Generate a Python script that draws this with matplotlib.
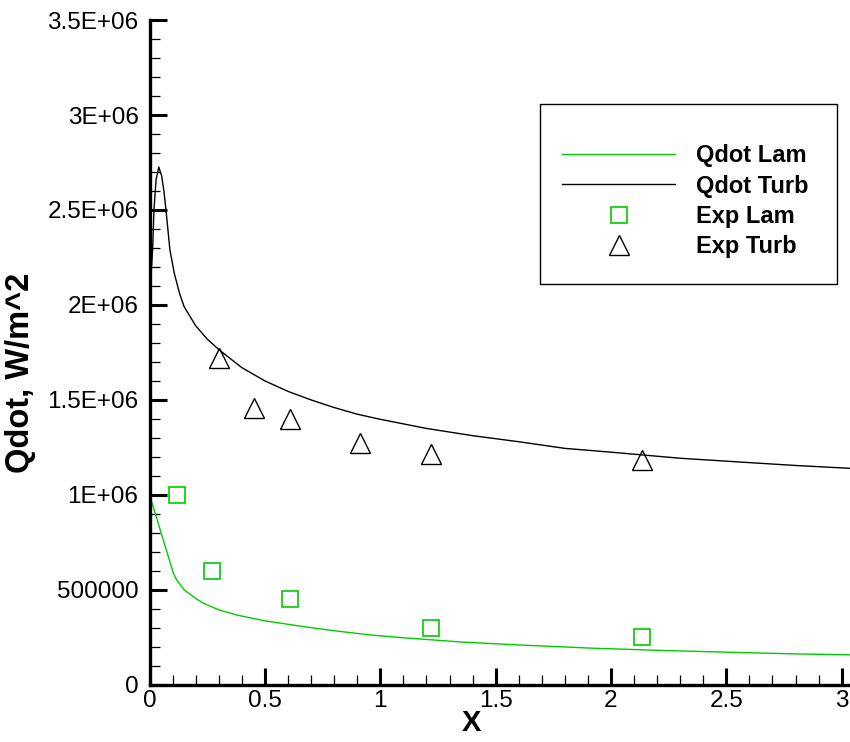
import matplotlib
matplotlib.use('Agg')
import matplotlib.pyplot as plt
from matplotlib.patches import Rectangle
from matplotlib.ticker import MultipleLocator

plt.rcParams['font.family'] = ['Liberation Sans', 'DejaVu Sans']

# Computed heat flux along the wall
x_lam = [0.0, 0.103, 0.117, 0.15, 0.2, 0.233, 0.3, 0.377, 0.5, 0.666, 0.8, 0.955,
         1.1, 1.345, 1.6, 1.923, 2.2, 2.502, 2.8, 3.036]
q_lam = [1.0e6, 0.588e6, 0.553e6, 0.5e6, 0.455e6, 0.43e6, 0.395e6, 0.368e6,
         0.337e6, 0.307e6, 0.285e6, 0.263e6, 0.248e6, 0.226e6, 0.21e6, 0.193e6,
         0.182e6, 0.172e6, 0.163e6, 0.158e6]

x_turb = [0.0, 0.006, 0.013, 0.019, 0.028, 0.04, 0.052, 0.062, 0.071, 0.088, 0.107,
          0.13, 0.15, 0.2, 0.25, 0.3, 0.4, 0.5, 0.6, 0.7, 0.8, 0.9, 1.0, 1.2, 1.4,
          1.6, 1.8, 2.0, 2.3, 2.6, 2.8, 3.036]
q_turb = [1.95e6, 2.15e6, 2.29e6, 2.5e6, 2.66e6, 2.726e6, 2.68e6, 2.6e6, 2.5e6,
          2.29e6, 2.167e6, 2.06e6, 1.99e6, 1.89e6, 1.82e6, 1.765e6, 1.67e6, 1.6e6,
          1.545e6, 1.5e6, 1.46e6, 1.425e6, 1.398e6, 1.35e6, 1.312e6, 1.28e6,
          1.245e6, 1.225e6, 1.193e6, 1.17e6, 1.155e6, 1.14e6]

# Measurements
x_exp_lam = [0.119, 0.27, 0.61, 1.22, 2.134]
q_exp_lam = [1.0e6, 0.6e6, 0.45e6, 0.3e6, 0.25e6]

x_exp_turb = [0.30, 0.454, 0.61, 0.913, 1.218, 2.134]
q_exp_turb = [1.72e6, 1.46e6, 1.4e6, 1.275e6, 1.217e6, 1.185e6]

x_ticks = [0, 0.5, 1, 1.5, 2, 2.5, 3]
x_tick_labels = ['0', '0.5', '1', '1.5', '2', '2.5', '3']
y_ticks = [0, 0.5e6, 1e6, 1.5e6, 2e6, 2.5e6, 3e6, 3.5e6]
y_tick_labels = ['0', '500000', '1E+06', '1.5E+06', '2E+06', '2.5E+06', '3E+06', '3.5E+06']

green = '#00cc00'

fig = plt.figure(figsize=(8.5, 7.42), dpi=100)
ax = fig.add_axes([0.176, 0.077, 0.824, 0.896])

ax.plot(x_lam, q_lam, color=green, lw=1.0, label='Qdot Lam')
ax.plot(x_turb, q_turb, color='black', lw=1.0, label='Qdot Turb')
ax.plot(x_exp_lam, q_exp_lam, ls='none', marker='s', ms=12, mfc='none',
        mec=green, mew=1.2, label='Exp Lam')
ax.plot(x_exp_turb, q_exp_turb, ls='none', marker='^', ms=14, mfc='none',
        mec='black', mew=1.0, label='Exp Turb')

ax.set_xlim(0, 3.036)
ax.set_ylim(0, 3.5e6)

ax.set_xticks(x_ticks)
ax.set_xticklabels(x_tick_labels)
ax.set_yticks(y_ticks)
ax.set_yticklabels(y_tick_labels)
ax.xaxis.set_minor_locator(MultipleLocator(0.1))
ax.yaxis.set_minor_locator(MultipleLocator(1e5))
ax.tick_params(which='major', direction='in', length=12, width=2.2,
               labelsize=17.5)
ax.tick_params(axis='x', which='major', pad=4)
ax.tick_params(axis='y', which='major', pad=8)
ax.tick_params(which='minor', direction='in', length=7, width=0.9)

for side in ('top', 'right'):
    ax.spines[side].set_visible(False)
for side in ('left', 'bottom'):
    ax.spines[side].set_linewidth(2.4)

ax.set_xlabel('X', fontsize=21, fontweight='bold', va='top')
ax.set_ylabel('Qdot, W/m^2', fontsize=23.5, fontweight='bold')
ax.xaxis.set_label_coords(0.46, -0.036)
ax.yaxis.set_label_coords(-0.162, 0.47)

# legend with its own frame
ax.add_patch(Rectangle((0.557, 0.603), 0.424, 0.271, transform=ax.transAxes,
                       fill=False, ec='black', lw=1.0, zorder=5))
ax.legend(loc='upper left', bbox_to_anchor=(0.531, 0.874), frameon=False,
          prop={'weight': 'bold', 'size': 17}, handlelength=4.8,
          handletextpad=0.85, labelspacing=0.31, borderpad=1.72,
          borderaxespad=0)

fig.savefig('out.png', dpi=100)
